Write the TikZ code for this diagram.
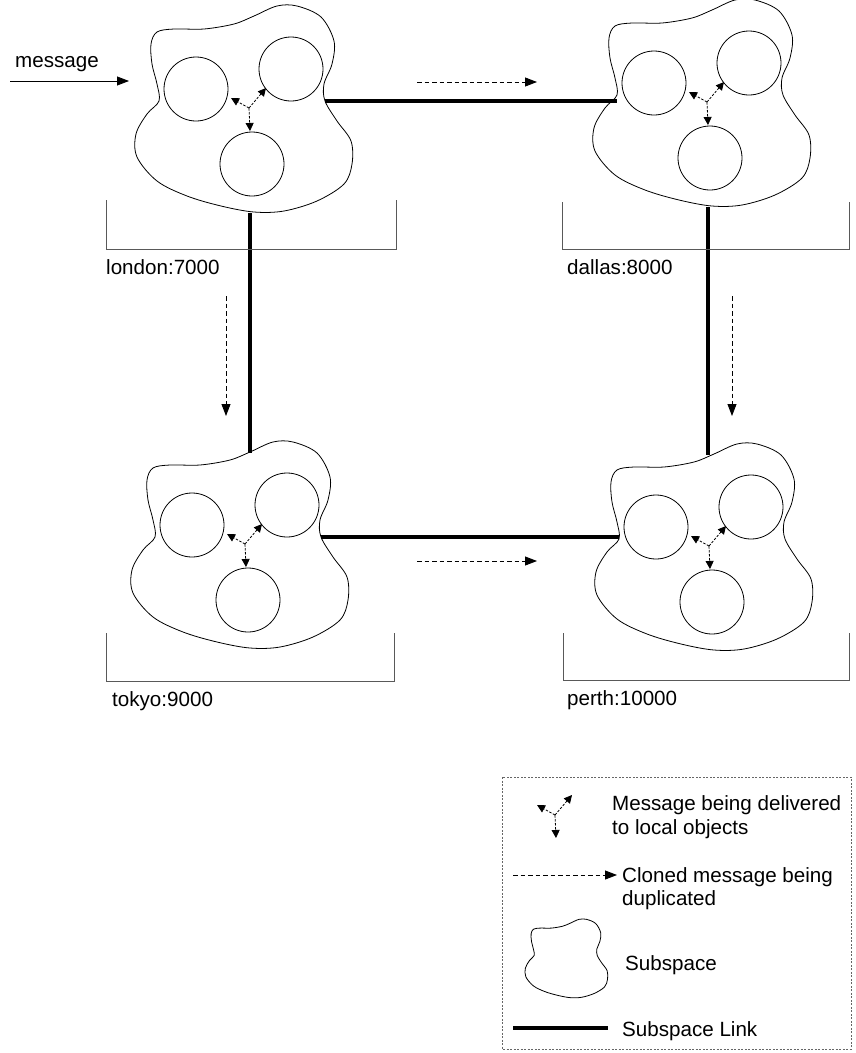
\documentclass[tikz,border=0pt]{standalone}
\usepackage{fontspec}
\setmainfont{Liberation Sans}
\usetikzlibrary{arrows.meta}

% outline of one subspace, relative to its lower circle
\newcommand{\blobshape}{plot[smooth cycle, tension=0.55] coordinates {
  (-101,-120) (-95,-132) (-78,-135) (-48,-135) (-18,-140) (2,-148)
  (25,-158) (45,-158) (69,-147) (82,-123) (80,-100) (72,-80) (73,-63)
  (85,-43) (99,-23) (100,0) (92,20) (65,37) (32,47) (2,48) (-31,42)
  (-65,32) (-95,17) (-115,-7) (-116,-30) (-105,-50) (-93,-63) (-95,-80)
  (-100,-100)}}

\tikzset{
  outline/.style={line width=0.8pt},
  link/.style={line width=3.2pt},
  port/.style={draw=black!65, line width=1pt},
  inarrow/.style={line width=0.8pt, -{Triangle[length=12pt,width=9pt]}},
  clone/.style={dash pattern=on 4.5pt off 3pt, line width=0.9pt, -{Triangle[length=12pt,width=9pt]}},
  deliver/.style={dash pattern=on 2.5pt off 1.5pt, line width=0.8pt, -{Triangle[length=8pt,width=8pt]}},
  textlabel/.style={font=\fontsize{20.6}{24.5}\selectfont, inner sep=0pt, anchor=base west},
  legendframe/.style={draw=black!60, dash pattern=on 2pt off 1.5pt, line width=0.7pt},
  pics/fanout/.style={code={
    \draw[deliver] (0,0) -- (-18,-10);
    \draw[deliver] (0,0) -- (17,-20);
    \draw[deliver] (0,0) -- (1,23);
  }},
  pics/site/.style={code={
    \draw[outline] \blobshape;
    \foreach \c in {(-56,-75),(39,-95),(0,0)}
      \draw[outline] \c circle[radius=32pt];
    \pic at (-3,-56) {fanout};
    \coordinate (-l) at (-93,-63);
    \coordinate (-r) at (73,-63);
    \coordinate (-t) at (-2,-147);
    \coordinate (-b) at (-2,49);
  }}
}

\begin{document}
\begin{tikzpicture}[x=1pt,y=-1pt]
\useasboundingbox (0,0) rectangle (855,1053);

% Subspaces
\pic (london) at (252,164) {site};
\pic (dallas) at (710,158) {site};
\pic (tokyo) at (248,600) {site};
\pic (perth) at (712,602) {site};

% Subspace links
\draw[link] (london-r) -- (london-r -| dallas-l);
\draw[link] (tokyo-r) -- (tokyo-r -| perth-l);
\draw[link] (london-b) -- (london-b |- tokyo-t);
\draw[link] (dallas-b) -- (dallas-b |- perth-t);

% Hosts
\draw[port] (106,200) |- (396,249) -- (396,200);
\node[textlabel] (london-name) at (106,274) {london:7000};
\draw[port] (562,202) |- (849,249) -- (849,202);
\node[textlabel] (dallas-name) at (567,274) {dallas:8000};
\draw[port] (106,633) |- (394,681) -- (394,633);
\node[textlabel] (tokyo-name) at (112,706) {tokyo:9000};
\draw[port] (563,633) |- (849,680) -- (849,633);
\node[textlabel] (perth-name) at (567,705) {perth:10000};

% Incoming message
\node[textlabel] (msg) at (15,67) {message};
\coordinate (msg-from) at (10,81);
\coordinate (msg-to) at (129,81);
\draw[inarrow] (msg-from) -- (msg-to);

% Cloned messages
\coordinate (ld-from) at (417,82);  \coordinate (ld-to) at (537,82);
\coordinate (lt-from) at (226,296); \coordinate (lt-to) at (226,416);
\coordinate (dp-from) at (732,296); \coordinate (dp-to) at (732,416);
\coordinate (tp-from) at (417,561); \coordinate (tp-to) at (537,561);
\draw[clone] (ld-from) -- (ld-to);
\draw[clone] (lt-from) -- (lt-to);
\draw[clone] (dp-from) -- (dp-to);
\draw[clone] (tp-from) -- (tp-to);

% Legend
\draw[legendframe] (502,777) rectangle (851,1049);
\pic at (555,815) {fanout};
\node[textlabel] (key-deliver) at (612,810) {Message being delivered};
\node[textlabel] (key-deliver2) at (612,834) {to local objects};
\coordinate (key-clone-from) at (513,875);
\coordinate (key-clone-to) at (617,875);
\draw[clone] (key-clone-from) -- (key-clone-to);
\node[textlabel] (key-clone) at (622,882) {Cloned message being};
\node[textlabel] (key-clone2) at (622,905) {duplicated};
\draw[outline, shift={(569.5,979.4)}, scale=0.38] \blobshape;
\node[textlabel] (key-subspace) at (625,970) {Subspace};
\coordinate (key-link-from) at (513,1028);
\coordinate (key-link-to) at (608,1028);
\draw[link] (key-link-from) -- (key-link-to);
\node[textlabel] (key-link) at (622,1036) {Subspace Link};
\end{tikzpicture}
\end{document}
